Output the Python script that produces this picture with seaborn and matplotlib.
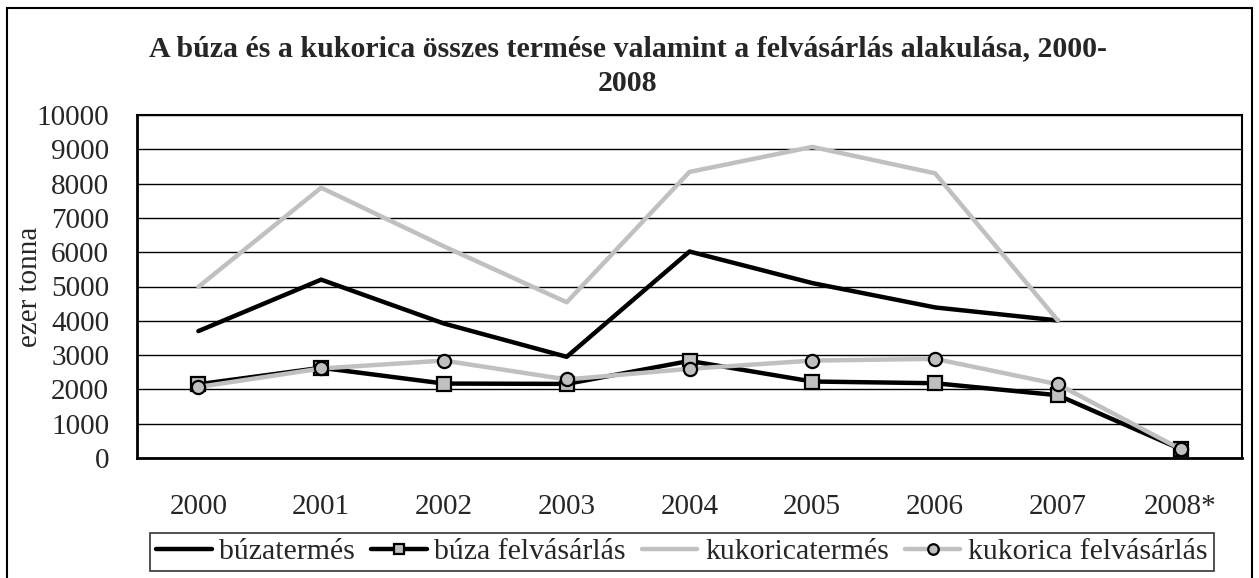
import numpy as np
import pandas as pd
import matplotlib
matplotlib.use("Agg")
import matplotlib.pyplot as plt
import seaborn as sns
from matplotlib.patches import Rectangle

years = ["2000", "2001", "2002", "2003", "2004", "2005", "2006", "2007", "2008*"]
buza_termes = [3700, 5200, 3920, 2950, 6020, 5100, 4390, 4010, np.nan]
buza_felv = [2150, 2630, 2170, 2160, 2830, 2230, 2180, 1830, 260]
kukorica_termes = [4990, 7880, 6170, 4540, 8340, 9070, 8300, 4010, np.nan]
kukorica_felv = [2070, 2610, 2840, 2290, 2600, 2840, 2890, 2150, 260]

names = ["búzatermés", "búza felvásárlás", "kukoricatermés", "kukorica felvásárlás"]
series = [buza_termes, buza_felv, kukorica_termes, kukorica_felv]

sns.set_style("white")
plt.rcParams["font.family"] = ["Liberation Serif", "DejaVu Serif"]

rows = []
for name, vals in zip(names, series):
    for i, v in enumerate(vals):
        rows.append({"pos": i, "ev": years[i], "ertek": v, "sor": name})
df = pd.DataFrame(rows)

fig = plt.figure(figsize=(12.59, 5.78), dpi=100)
ax = fig.add_axes([137 / 1259, 1 - 458 / 578, (1242 - 137) / 1259, (458 - 115) / 578])

gray = "#c0c0c0"
styles = {
    "búzatermés": dict(color="black", marker=None),
    "búza felvásárlás": dict(color="black", marker="s"),
    "kukoricatermés": dict(color=gray, marker=None),
    "kukorica felvásárlás": dict(color=gray, marker="o"),
}
for name in names:
    st = styles[name]
    sub = df[df["sor"] == name].dropna()
    kw = {}
    if st["marker"]:
        kw = dict(marker=st["marker"], markersize=9.5, markerfacecolor=gray,
                  markeredgecolor="black", markeredgewidth=1.6)
    sns.lineplot(data=sub, x="pos", y="ertek", ax=ax, color=st["color"],
                 linewidth=3.2, label=name, **kw)

ax.set_xlim(-0.5, 8.5)
ax.set_ylim(0, 10000)
ax.set_yticks(range(0, 10001, 1000))
ax.yaxis.grid(True, color="black", linewidth=1)
ax.set_axisbelow(True)
ax.set_xticks(np.arange(-0.5, 9, 1))
ax.set_xticklabels([])
ax.set_xticks(range(9), minor=True)
ax.set_xticklabels(years, minor=True)
ax.tick_params(axis="x", which="major", length=9, width=1.2, direction="out", color="black")
ax.tick_params(axis="x", which="minor", length=0, pad=26, labelsize=21)
ax.tick_params(axis="y", length=9, width=1.2, direction="out", color="black", labelsize=21, pad=11)
for sp in ax.spines.values():
    sp.set_visible(True)
    sp.set_color("black")
    sp.set_linewidth(1.5)
ax.spines["left"].set_linewidth(2)
ax.spines["bottom"].set_linewidth(2)

ax.set_xlabel("")
ax.set_ylabel("ezer tonna", fontsize=21)
ax.yaxis.set_label_coords(-0.085, 0.5)

fig.text(628 / 1259, 1 - 66 / 578,
         "A búza és a kukorica összes termése valamint a felvásárlás alakulása, 2000-\n2008",
         ha="center", va="center", fontsize=21.5, fontweight="bold", linespacing=1.4)

leg = ax.legend(loc="center", bbox_to_anchor=(682 / 1259, 1 - 552 / 578),
                bbox_transform=fig.transFigure, ncol=4, frameon=True, fontsize=21.5,
                handlelength=1.85, handletextpad=0.25, columnspacing=0.55,
                borderpad=0.2, fancybox=False, edgecolor="black", markerscale=0.8)
leg.get_frame().set_linewidth(1.2)

fig.patches.append(Rectangle((7 / 1259, -0.01), (1252 - 7) / 1259, 1 - 8 / 578 + 0.01,
                             transform=fig.transFigure, fill=False,
                             edgecolor="black", linewidth=1.5))

fig.savefig("out.png", dpi=100)
